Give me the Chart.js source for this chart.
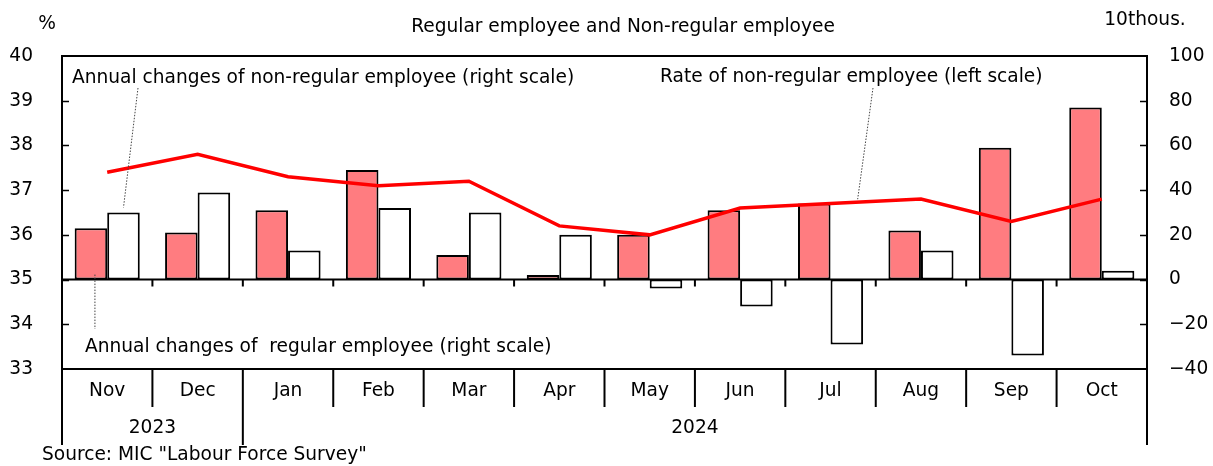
<!DOCTYPE html>
<html>
<head>
<meta charset="utf-8">
<script src="https://cdn.jsdelivr.net/npm/chart.js@4"></script>
<style>
  html, body { margin: 0; padding: 0; background: #fff; }
  #wrap { width: 1213px; height: 466px; }
</style>
</head>
<body>
<div id="wrap"><canvas id="grafico" width="1213" height="466"></canvas></div>
<script>
var months = ['Nov', 'Dec', 'Jan', 'Feb', 'Mar', 'Apr', 'May', 'Jun', 'Jul', 'Aug', 'Sep', 'Oct'];
var years = ['2023', '2023', '2024', '2024', '2024', '2024', '2024', '2024', '2024', '2024', '2024', '2024'];
// annual changes, 10thous. (right scale)
var regular = [23, 21, 31, 49, 11, 2, 20, 31, 34, 22, 59, 77];
var nonRegular = [30, 39, 13, 32, 30, 20, -4, -12, -29, 13, -34, 4];
// rate of non-regular employee, % (left scale)
var rate = [37.4, 37.8, 37.3, 37.1, 37.2, 36.2, 36.0, 36.6, 36.7, 36.8, 36.3, 36.8];

var FONT = '"DejaVu Sans", Verdana, sans-serif';
var TXT = '18.6px ' + FONT;

function minus(v) {
  return v < 0 ? '\u2212' + Math.abs(v) : String(v);
}

var decoPlugin = {
  id: 'deco',
  afterDraw: function(chart) {
    var ctx = chart.ctx;
    var a = chart.chartArea;
    var y = chart.scales.y, y2 = chart.scales.y2;
    var zero = y2.getPixelForValue(0);
    var step = (a.right - a.left) / months.length;
    ctx.save();
    ctx.strokeStyle = '#000';
    ctx.lineCap = 'butt';

    // frame
    ctx.lineWidth = 2;
    ctx.strokeRect(a.left, a.top, a.right - a.left, a.bottom - a.top);
    // zero line
    ctx.beginPath();
    ctx.moveTo(a.left, zero);
    ctx.lineTo(a.right, zero);
    ctx.stroke();

    // inner ticks
    ctx.lineWidth = 1.5;
    ctx.beginPath();
    for (var v = y.min + 1; v < y.max; v++) {
      var py = Math.round(y.getPixelForValue(v)) + 0.5;
      ctx.moveTo(a.left, py);
      ctx.lineTo(a.left + 7, py);
    }
    for (var w = y2.min + 20; w < y2.max; w += 20) {
      var py2 = Math.round(y2.getPixelForValue(w)) + 0.5;
      ctx.moveTo(a.right - 7, py2);
      ctx.lineTo(a.right, py2);
    }
    ctx.stroke();

    // ticks on zero line and separators under the axis
    ctx.lineWidth = 2;
    ctx.beginPath();
    for (var i = 0; i <= months.length; i++) {
      var bx = a.left + step * i;
      if (i > 0 && i < months.length) {
        ctx.moveTo(bx, zero);
        ctx.lineTo(bx, zero + 7);
      }
      var yearEdge = (i === 0 || i === months.length || years[i] !== years[i - 1]);
      ctx.moveTo(bx, a.bottom);
      ctx.lineTo(bx, yearEdge ? a.bottom + 76 : a.bottom + 38);
    }
    ctx.stroke();

    // year labels
    ctx.fillStyle = '#000';
    ctx.font = TXT;
    ctx.textAlign = 'center';
    ctx.textBaseline = 'middle';
    var start = 0;
    for (var j = 1; j <= years.length; j++) {
      if (j === years.length || years[j] !== years[start]) {
        var cx = a.left + step * (start + j) / 2;
        ctx.fillText(years[start], cx, a.bottom + 59);
        start = j;
      }
    }

    // titles and units
    ctx.fillText('Regular employee and Non-regular employee', 623, 27);
    ctx.fillText('%', 47, 24);
    ctx.fillText('10thous.', 1145, 20);
    ctx.textAlign = 'left';
    ctx.fillText('Source: MIC "Labour Force Survey"', 42, 455);

    // annotations
    ctx.fillText('Annual changes of non-regular employee (right scale)', 72, 78);
    ctx.fillText('Rate of non-regular employee (left scale)', 660, 77);
    ctx.fillText('Annual changes of  regular employee (right scale)', 85, 347);

    // leader lines
    var mReg = chart.getDatasetMeta(0).data;
    var mNon = chart.getDatasetMeta(1).data;
    var mRate = chart.getDatasetMeta(2).data;
    ctx.lineWidth = 1;
    ctx.strokeStyle = '#444';
    ctx.setLineDash([1.5, 1.5]);
    ctx.beginPath();
    ctx.moveTo(138, 88);
    ctx.lineTo(mNon[0].x, mNon[0].y - 5);
    ctx.moveTo(mReg[0].x + 4, zero - 5);
    ctx.lineTo(mReg[0].x + 4, 329);
    var t = 0.3;
    var lx = mRate[8].x + (mRate[9].x - mRate[8].x) * t;
    var ly = mRate[8].y + (mRate[9].y - mRate[8].y) * t;
    ctx.moveTo(873, 88);
    ctx.lineTo(lx, ly - 3);
    ctx.stroke();
    ctx.restore();
  }
};

var ctxG = document.getElementById('grafico').getContext('2d');
var grafico = new Chart(ctxG, {
  type: 'bar',
  data: {
    labels: months,
    datasets: [{
      label: 'Annual changes of regular employee',
      data: regular,
      yAxisID: 'y2',
      backgroundColor: '#FF7C80',
      borderColor: '#000',
      borderWidth: 2,
      borderSkipped: false,
      categoryPercentage: 0.72,
      barPercentage: 1.0,
      order: 1
    }, {
      label: 'Annual changes of non-regular employee',
      data: nonRegular,
      yAxisID: 'y2',
      backgroundColor: '#FFFFFF',
      borderColor: '#000',
      borderWidth: 2,
      borderSkipped: false,
      categoryPercentage: 0.72,
      barPercentage: 1.0,
      order: 1
    }, {
      type: 'line',
      label: 'Rate of non-regular employee',
      data: rate,
      yAxisID: 'y',
      borderColor: '#FF0000',
      borderWidth: 3.5,
      pointRadius: 0,
      tension: 0,
      fill: false,
      order: 0
    }]
  },
  options: {
    responsive: false,
    animation: false,
    layout: { padding: { top: 56, left: 0, right: 0, bottom: 0 } },
    plugins: {
      legend: { display: false },
      tooltip: { enabled: false },
      title: { display: false }
    },
    scales: {
      x: {
        offset: true,
        grid: { display: false, drawTicks: false },
        border: { display: false },
        ticks: { color: '#000', font: { family: FONT, size: 18.6 }, padding: 11, maxRotation: 0 },
        afterFit: function(s) { s.height = 97; }
      },
      y: {
        position: 'left',
        min: 33,
        max: 40,
        grid: { display: false, drawTicks: false },
        border: { display: false },
        ticks: { stepSize: 1, color: '#000', font: { family: FONT, size: 18.6 }, padding: 29 },
        afterFit: function(s) { s.width = 62; }
      },
      y2: {
        position: 'right',
        min: -40,
        max: 100,
        grid: { display: false, drawTicks: false },
        border: { display: false },
        ticks: { stepSize: 20, color: '#000', font: { family: FONT, size: 18.6 }, padding: 22,
                 callback: function(v) { return minus(v); } },
        afterFit: function(s) { s.width = 66; }
      }
    }
  },
  plugins: [decoPlugin]
});
</script>
</body>
</html>
